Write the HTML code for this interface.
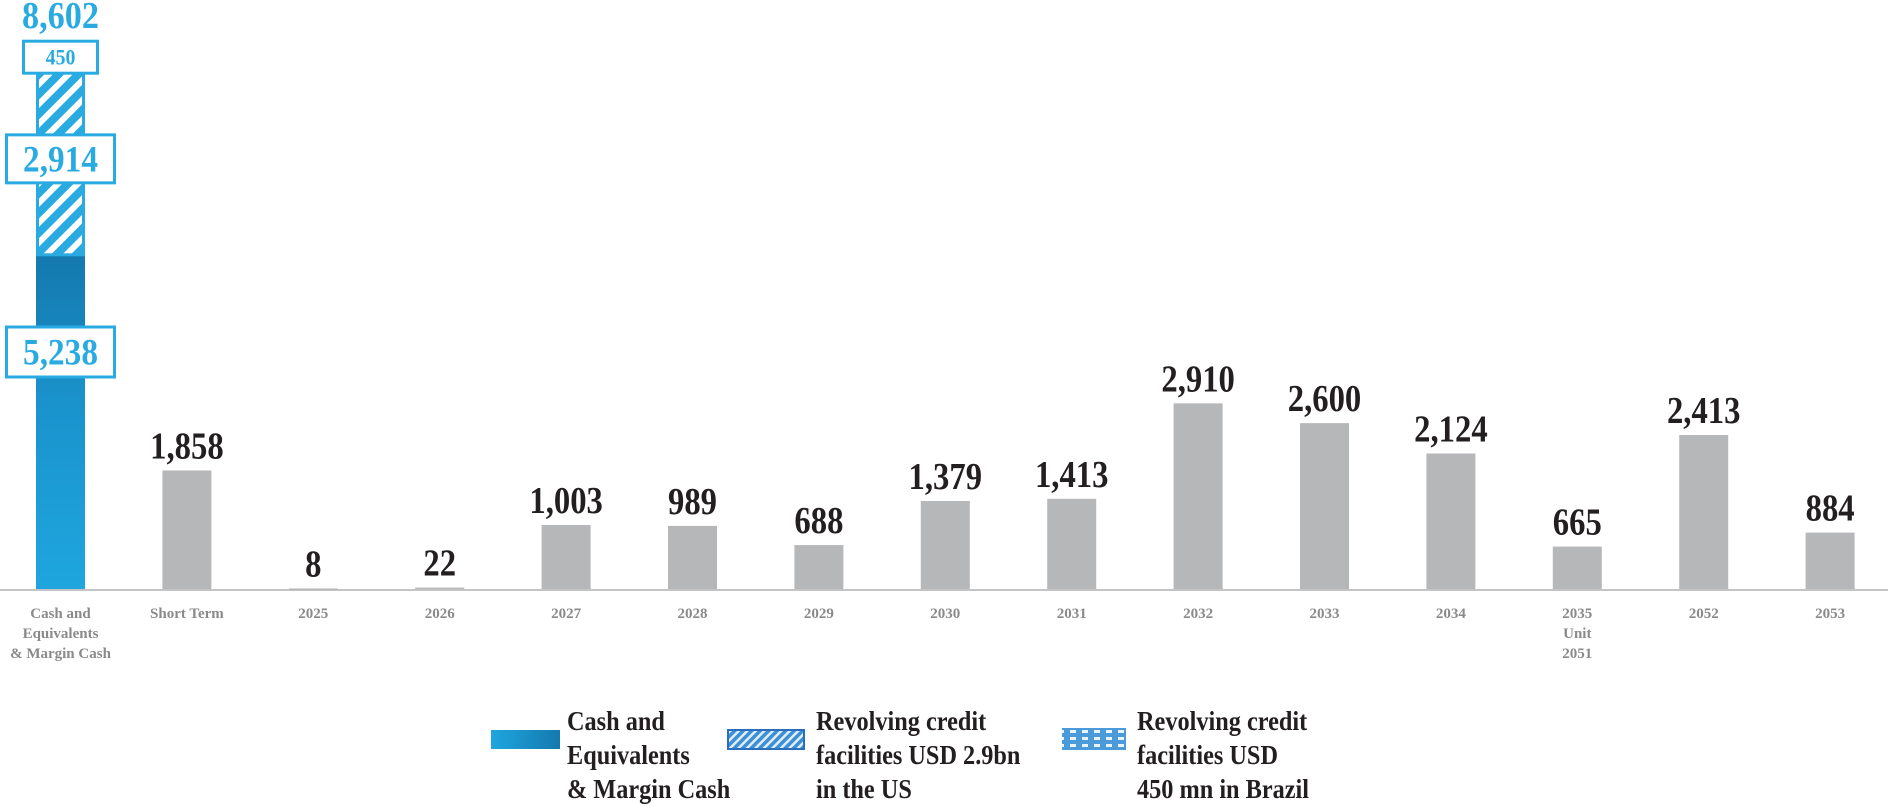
<!DOCTYPE html>
<html><head><meta charset="utf-8"><style>
html,body{margin:0;padding:0;background:#fff;}
svg{display:block;}
</style></head><body>
<svg id="chart" width="1888" height="806" viewBox="0 0 1888 806" xmlns="http://www.w3.org/2000/svg">
<defs>
<linearGradient id="cashGrad" x1="0" y1="1" x2="0" y2="0">
<stop offset="0" stop-color="#1fa6df"/><stop offset="0.55" stop-color="#1a93cc"/><stop offset="1" stop-color="#1479ae"/>
</linearGradient>
<linearGradient id="cashGradH" x1="0" y1="0" x2="1" y2="0">
<stop offset="0" stop-color="#1fa6df"/><stop offset="1" stop-color="#1479ae"/>
</linearGradient>
<pattern id="hatch" width="14" height="14" patternUnits="userSpaceOnUse" patternTransform="rotate(45)">
<rect width="14" height="14" fill="#29abe2"/><rect x="0" y="0" width="6" height="14" fill="#fff"/>
</pattern>
<pattern id="hatchSmall" width="6" height="6" patternUnits="userSpaceOnUse" patternTransform="rotate(45)">
<rect width="6" height="6" fill="#3d8fd6"/><rect width="2.5" height="6" fill="#dfeefb"/>
</pattern>
<pattern id="dots" width="12" height="7" patternUnits="userSpaceOnUse">
<rect width="12" height="7" fill="#4b9ad9"/><rect x="2" y="2" width="6" height="3" fill="#e8f3fc"/>
</pattern>
</defs>
<g id="plot"></g>
<g id="legend">
<g>
<rect x="491" y="730" width="69" height="19" fill="url(#cashGradH)"/>
<text font-family="Liberation Serif, serif" font-weight="bold" font-size="27" fill="#231f20" transform="translate(567,0) scale(0.9,1)"><tspan x="0" y="730">Cash and</tspan><tspan x="0" y="764">Equivalents</tspan><tspan x="0" y="798">&amp; Margin Cash</tspan></text>
</g>
<g>
<rect x="728" y="730" width="76" height="19" fill="url(#hatchSmall)" stroke="#2a6fbf" stroke-width="2"/>
<text font-family="Liberation Serif, serif" font-weight="bold" font-size="27" fill="#231f20" transform="translate(816,0) scale(0.9,1)"><tspan x="0" y="730">Revolving credit</tspan><tspan x="0" y="764">facilities USD 2.9bn</tspan><tspan x="0" y="798">in the US</tspan></text>
</g>
<g>
<rect x="1062" y="728" width="64" height="22" fill="url(#dots)"/>
<text font-family="Liberation Serif, serif" font-weight="bold" font-size="27" fill="#231f20" transform="translate(1137,0) scale(0.9,1)"><tspan x="0" y="730">Revolving credit</tspan><tspan x="0" y="764">facilities USD</tspan><tspan x="0" y="798">450 mn in Brazil</tspan></text>
</g>
</g>
</svg>
<script>
const categories = ["Short Term","2025","2026","2027","2028","2029","2030","2031","2032","2033","2034","2035|Unit|2051","2052","2053"];
const maturities = [1858,8,22,1003,989,688,1379,1413,2910,2600,2124,665,2413,884];
const maturityLabels = ["1,858","8","22","1,003","989","688","1,379","1,413","2,910","2,600","2,124","665","2,413","884"];
const liquidityCategory = "Cash and|Equivalents|& Margin Cash";
const cashValue = 5238;
const revolverUS = 2914;
const revolverBrazil = 450;
const liquidityLabels = ["5,238","2,914","450"];
const liquidityTotalLabel = "8,602";

const NS = "http://www.w3.org/2000/svg";
const baseY = 589, k = 0.0638, x0 = 60.5, step = 126.4, bw = 49;
function yScale(v){ return baseY - v * k; }
function xScale(i){ return x0 + step * i; }
const plot = document.getElementById('plot');
function mk(tag, attrs, parent){ const e = document.createElementNS(NS, tag); for (const a in attrs) e.setAttribute(a, attrs[a]); (parent||plot).appendChild(e); return e; }

const axis = mk('line', {x1:0, x2:1888, y1:baseY+1, y2:baseY+1, stroke:'#c4c4c4', 'stroke-width':2});



function catLabel(txt, cx){
  const t = mk('text', {'font-family':'Liberation Serif, serif','font-weight':'bold','font-size':15,fill:'#8a8a8a','text-anchor':'middle'});
  
  
  txt.split('|').forEach((s, j) => { const ts = mk('tspan', {x:cx, y:618 + j*20}, t); ts.textContent = s; });
}

// stacked liquidity bar
const cx0 = xScale(0);
const yCashTop = yScale(cashValue), yUSTop = yScale(cashValue + revolverUS), yBRTop = yScale(cashValue + revolverUS + revolverBrazil);
const cashBar = mk('rect', {x:cx0-bw/2, y:yCashTop, width:bw, height:baseY-yCashTop, fill:'url(#cashGrad)'});


const usBar = mk('rect', {x:cx0-bw/2+1.5, y:yUSTop, width:bw-3, height:yCashTop-yUSTop, fill:'url(#hatch)', stroke:'#29abe2', 'stroke-width':3});


const brBar = mk('rect', {x:cx0-bw/2, y:yBRTop, width:bw, height:yUSTop-yBRTop, fill:'url(#dots)'});



function boxLabel(txt, cy, w, h, fs, name){
  const r = mk('rect', {x:cx0-w/2, y:cy-h/2, width:w, height:h, fill:'#fff', stroke:'#29abe2', 'stroke-width':3});
  
  
  const t = mk('text', {'font-family':'Liberation Serif, serif','font-weight':'bold','font-size':fs,fill:'#29abe2','text-anchor':'middle',transform:`translate(${cx0},${cy+fs*0.34}) scale(0.9,1)`});
  
  
  t.textContent = txt;
}
boxLabel(liquidityLabels[0], 352, 108, 50, 37, 'label-cash');
boxLabel(liquidityLabels[1], (yCashTop + yUSTop)/2 - 3, 108, 48, 37, 'label-revolver-us');
boxLabel(liquidityLabels[2], yBRTop + 17, 74, 32, 22, 'label-revolver-brazil');
const tot = mk('text', {'font-family':'Liberation Serif, serif','font-weight':'bold','font-size':38,fill:'#29abe2','text-anchor':'middle',transform:`translate(${cx0},${yBRTop-12}) scale(0.9,1)`});


tot.textContent = liquidityTotalLabel;
catLabel(liquidityCategory, cx0);

// maturity bars
maturities.forEach((v, i) => {
  const cx = xScale(i + 1), y = yScale(v);
  const b = mk('rect', {x:cx-bw/2, y:y, width:bw, height:Math.max(baseY-y, 1.5), fill:'#b6b7b9'});
  
  
  const t = mk('text', {'font-family':'Liberation Serif, serif','font-weight':'bold','font-size':38,fill:'#231f20','text-anchor':'middle',transform:`translate(${cx},${y-12}) scale(0.86,1)`});
  
  
  t.textContent = maturityLabels[i];
  catLabel(categories[i], cx);
});
</script>
</body></html>
